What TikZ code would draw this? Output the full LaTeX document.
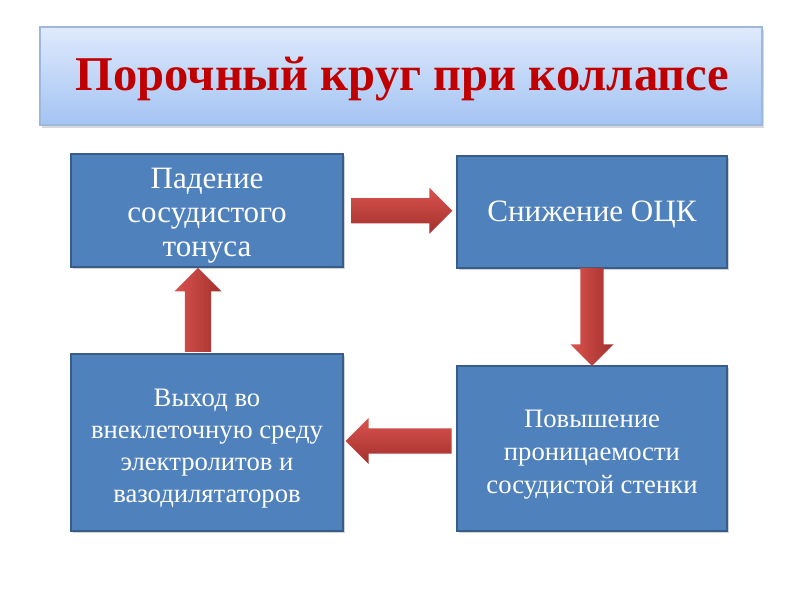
\documentclass[tikz,border=0pt]{standalone}
\usepackage{fontspec}
\setmainfont{Liberation Serif}
\usetikzlibrary{shapes.arrows,shadows,calc}
\definecolor{boxfill}{HTML}{4F81BD}
\definecolor{boxline}{HTML}{385D8A}
\definecolor{ttop}{HTML}{DFEAFC}
\definecolor{tbot}{HTML}{A3C3F3}
\definecolor{tline}{HTML}{9DB8DC}
\definecolor{ttext}{HTML}{C00000}
\definecolor{arlight}{HTML}{D9534F}
\definecolor{ardark}{HTML}{A3302D}
\begin{document}
\begin{tikzpicture}[x=0.75pt,y=-0.75pt,
  box/.style={draw=boxline, line width=1pt, fill=boxfill, inner sep=0pt,
    drop shadow={shadow xshift=1.2pt, shadow yshift=-1.2pt, opacity=0.35}},
  bigtxt/.style={text=white, align=center, inner sep=0pt, font=\fontsize{23.3}{25.5}\selectfont},
  smalltxt/.style={text=white, align=center, inner sep=0pt, font=\fontsize{20}{24}\selectfont},
  barrow/.style={single arrow, draw=none, inner sep=0pt, single arrow tip angle=90,
    single arrow head indent=0pt},
  hshade/.style={top color=arlight, bottom color=ardark},
  vshade/.style={left color=arlight, right color=ardark}]
\useasboundingbox (0,0) rectangle (800,600);
\fill[white] (0,0) rectangle (800,600);
\node[draw=tline, line width=0.8pt, top color=ttop, bottom color=tbot, minimum width=541.5pt, minimum height=73.5pt,
  drop shadow={shadow xshift=1.5pt, shadow yshift=-2pt, opacity=0.3}, inner sep=0pt] (title) at (401,76) {};
\node[text=ttext, inner sep=0pt, font=\fontsize{36.4}{40}\selectfont\bfseries] (tt) at ($(title.center)+(1.5,3)$)
  {Порочный круг при коллапсе};
\node[box, minimum width=204pt, minimum height=84.75pt] (a) at (207,210.5) {};
\node[box, minimum width=202.5pt, minimum height=84pt] (b) at (592,212) {};
\node[box, minimum width=204pt, minimum height=132.75pt] (c) at (207,442.5) {};
\node[box, minimum width=202.5pt, minimum height=123.75pt] (d) at (592,448.5) {};
\node[bigtxt] (at) at ($(a.center)+(0,5)$) {Падение\\сосудистого\\тонуса};
\node[bigtxt] (bt) at ($(b.center)+(0,3)$) {Снижение ОЦК};
\node[smalltxt] (ct) at ($(c.center)+(0,6)$) {Выход во\\внеклеточную среду\\электролитов и\\вазодилятаторов};
\node[smalltxt, font=\fontsize{20}{25}\selectfont] (dt) at ($(d.center)+(0,6)$) {Повышение\\проницаемости\\сосудистой стенки};
% arrows
\node[barrow, hshade, shape border rotate=0, minimum height=75.75pt, minimum width=34.5pt,
  inner ysep=8.6pt] (r1) at ($(a.east)!0.5!(b.west)+(-4.5,-0.5)$) {};
\node[barrow, vshade, shape border rotate=270, minimum height=73.5pt, minimum width=32.25pt,
  inner xsep=8.25pt] (r2) at ($(b.south)!0.5!(d.north)+(0,-6)$) {};
\node[barrow, hshade, shape border rotate=180, minimum height=79.5pt, minimum width=34.5pt,
  inner ysep=8.6pt] (r3) at ($(c.east)!0.5!(d.west)+(5,-4.5)$) {};
\node[barrow, vshade, shape border rotate=90, minimum height=63pt, minimum width=35pt,
  inner xsep=9pt] (r4) at ($(a.south)!0.5!(c.north)+(-9,6)$) {};
\end{tikzpicture}
\end{document}
